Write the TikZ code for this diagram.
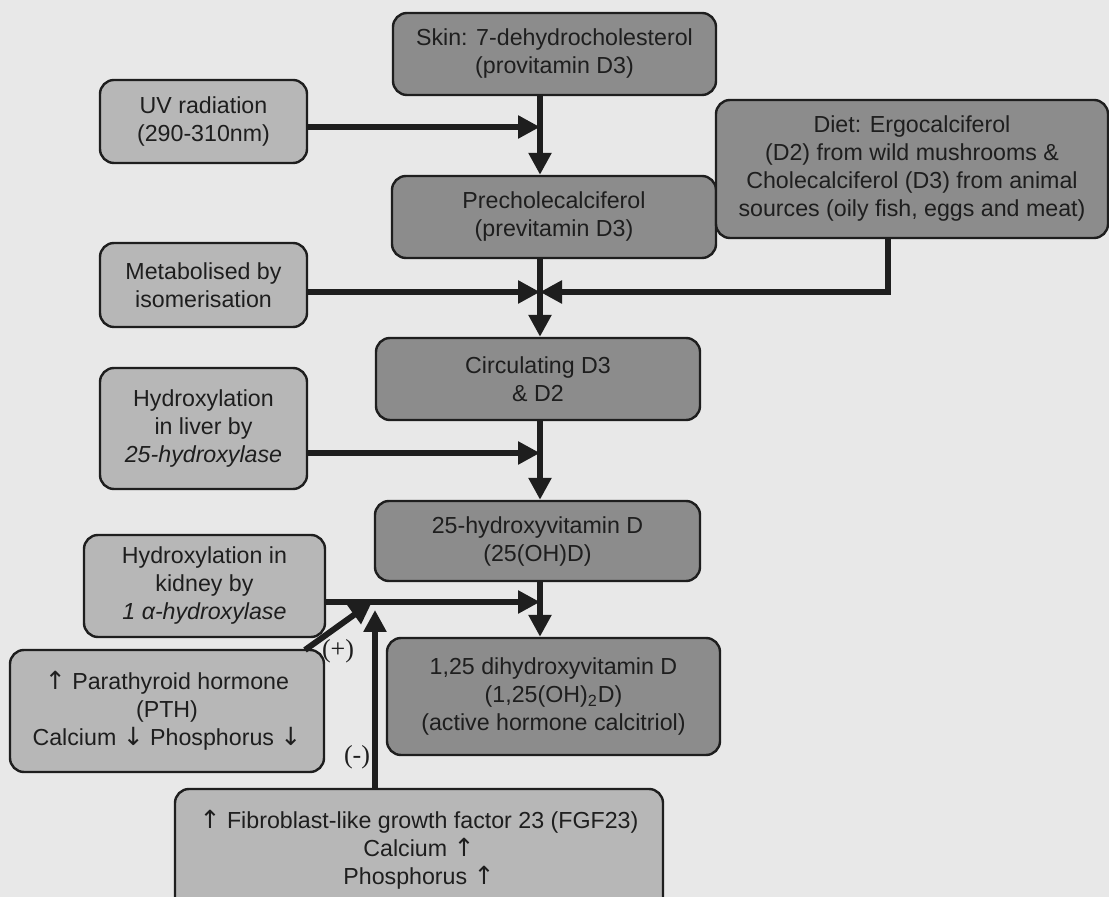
\documentclass[tikz,border=0pt]{standalone}
\usepackage{fontspec}
\setmainfont{Liberation Sans}
\newfontfamily\serifx{Liberation Serif}
\newfontfamily\arrowfont{DejaVu Sans}
\newcommand{\uarr}{{\arrowfont\fontsize{12.5}{12}\selectfont ↑}}
\newcommand{\darr}{{\arrowfont\fontsize{12.5}{12}\selectfont ↓}}
\usetikzlibrary{arrows.meta}
\definecolor{bg}{HTML}{E8E8E8}
\definecolor{darkbox}{HTML}{8C8C8C}
\definecolor{lightbox}{HTML}{B7B7B7}
\definecolor{ink}{HTML}{1E1E1E}
\begin{document}
\begin{tikzpicture}[x=0.5pt,y=-0.5pt,
  box/.style={draw=ink, line width=1.2pt, rounded corners=7pt, align=center, text=ink,
    font=\fontsize{11.6}{14}\selectfont, inner sep=0pt},
  mainbox/.style={box, fill=darkbox},
  sidebox/.style={box, fill=lightbox},
  flow/.style={draw=ink, line width=3pt, -{Triangle[length=11pt,width=11pt]}},
  sign/.style={font=\serifx\fontsize{13}{15}\selectfont, text=ink}]
\fill[bg] (0,0) rectangle (1109,897);
\useasboundingbox (0,0) rectangle (1109,897);

\node[mainbox, minimum width=161.5pt, minimum height=41pt] (skin) at (554.5,54)
  {Skin: 7-dehydrocholesterol\\(provitamin D3)};
\node[sidebox, minimum width=103.5pt, minimum height=41.5pt] (uv) at (203.5,121.5)
  {UV radiation\\(290-310nm)};
\node[mainbox, minimum width=162pt, minimum height=41pt] (pre) at (554,217)
  {Precholecalciferol\\(previtamin D3)};
\node[mainbox, minimum width=196pt, minimum height=69pt] (diet) at (912,169)
  {Diet: Ergocalciferol\\(D2) from wild mushrooms \&\\Cholecalciferol (D3) from animal\\sources (oily fish, eggs and meat)};
\node[sidebox, minimum width=103.5pt, minimum height=42pt] (meta) at (203.5,285)
  {Metabolised by\\isomerisation};
\node[mainbox, minimum width=162pt, minimum height=41pt] (circ) at (538,379)
  {Circulating D3\\\& D2};
\node[sidebox, minimum width=103.5pt, minimum height=60.5pt] (liver) at (203.5,428.5)
  {Hydroxylation\\in liver by\\\textit{25-hydroxylase}};
\node[mainbox, minimum width=162.5pt, minimum height=40pt] (hyd) at (537.5,541)
  {25-hydroxyvitamin D\\(25(OH)D)};
\node[sidebox, minimum width=120.5pt, minimum height=51pt] (kidney) at (204.5,586)
  {Hydroxylation in\\kidney by\\\textit{1 α-hydroxylase}};
\node[mainbox, minimum width=166.5pt, minimum height=58.5pt] (dihyd) at (553.5,696.5)
  {1,25 dihydroxyvitamin D\\(1,25(OH)\textsubscript{2}D)\\(active hormone calcitriol)};
\node[sidebox, minimum width=157pt, minimum height=61pt] (pth) at (167,711)
  {\uarr\ Parathyroid hormone\\(PTH)\\Calcium \darr\ Phosphorus \darr};
\node[sidebox, minimum width=244pt, minimum height=61pt] (fgf) at (419,850)
  {\uarr\ Fibroblast-like growth factor 23 (FGF23)\\Calcium \uarr\\Phosphorus \uarr};

\coordinate (sp) at (540,0);
\coordinate (j1) at (540,127);
\coordinate (j2) at (540,292);
\coordinate (j3) at (540,453);
\coordinate (j4) at (540,602);
\coordinate (dd) at (888,0);
\coordinate (ps) at (305,650);
\coordinate (pj) at (372,602);
\coordinate (fx) at (375,0);
\coordinate (fy) at (0,610);

\draw[flow] (skin.south -| sp) -- (pre.north -| sp);
\draw[flow] (uv.east |- j1) -- (j1);
\draw[flow] (pre.south -| sp) -- (circ.north -| sp);
\draw[flow] (meta.east |- j2) -- (j2);
\draw[flow] (diet.south -| dd) -- (dd |- j2) -- (j2);
\draw[flow] (circ.south -| sp) -- (hyd.north -| sp);
\draw[flow] (liver.east |- j3) -- (j3);
\draw[flow] (hyd.south -| sp) -- (dihyd.north -| sp);
\draw[flow] (kidney.east |- j4) -- (j4);
\draw[flow] (ps) -- (pj);
\draw[flow] (fgf.north -| fx) -- (fx |- fy);

\node[sign] (plus) at (338,651) {(+)};
\node[sign] (minus) at (357,757) {(-)};
\end{tikzpicture}
\end{document}
